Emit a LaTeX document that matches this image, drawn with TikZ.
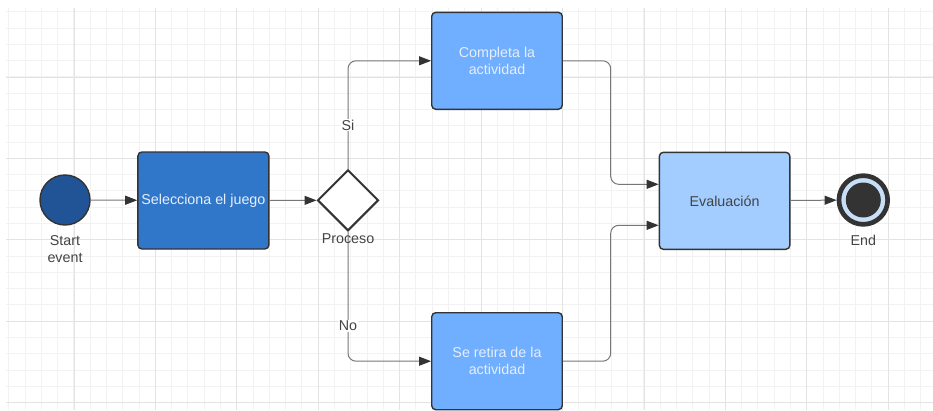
\documentclass[tikz,border=0pt]{standalone}
\usepackage{fontspec}
\setmainfont{Liberation Sans}
\usetikzlibrary{shapes.geometric,arrows.meta,calc}
\definecolor{gridminor}{HTML}{F2F2F2}
\definecolor{gridmajor}{HTML}{E3E3E3}
\definecolor{startblue}{HTML}{215497}
\definecolor{taskA}{HTML}{3177C9}
\definecolor{taskB}{HTML}{70AEFF}
\definecolor{taskC}{HTML}{A3CCFF}
\definecolor{bordergray}{HTML}{333333}
\definecolor{conngray}{HTML}{777777}
\definecolor{tiptone}{HTML}{333333}
\definecolor{lighttext}{HTML}{E6EEF9}
\definecolor{darktext}{HTML}{444444}
\definecolor{ringblue}{HTML}{C9DFF7}
\begin{document}
\begin{tikzpicture}[x=1pt,y=-1pt,
  every node/.style={font=\fontsize{14.3}{17}\selectfont},
  taskbox/.style={draw=bordergray,line width=1.4pt,rounded corners=4pt,minimum width=130.5pt,minimum height=97pt,inner sep=2pt,align=center},
  conn/.style={draw=conngray,line width=1pt,rounded corners=8pt},
  arr/.style={conn,-{Triangle[length=12pt,width=9pt,fill=tiptone,color=tiptone]}},
  lbl/.style={text=darktext,inner sep=1pt,align=center}
]
\useasboundingbox (0,0) rectangle (933,410);
\fill[white] (0,0) rectangle (933,410);
% grid
\foreach \i in {0,...,56} {
  \draw[gridminor,line width=1pt] ({8.8+16.286*\i},8) -- ({8.8+16.286*\i},410);
}
\foreach \j in {0,...,24} {
  \draw[gridminor,line width=1pt] (6,{11.8+16.286*\j}) -- (933,{11.8+16.286*\j});
}
\foreach \k in {0,...,10} {
  \draw[gridmajor,line width=1pt] ({74+81.43*\k},8) -- ({74+81.43*\k},410);
}
\foreach \k in {0,...,4} {
  \draw[gridmajor,line width=1pt] (6,{77+81.43*\k}) -- (933,{77+81.43*\k});
}
% nodes
\node[circle,draw=bordergray,line width=1.4pt,fill=startblue,minimum size=50pt,inner sep=0pt] (start) at (65,200) {};
\node[lbl] (startlbl) at (65,249) {Start\\event};
\node[taskbox,fill=taskA,text=lighttext,minimum width=131pt] (sel) at (203.4,200.5) {Selecciona el juego};
\node[diamond,aspect=1,draw=bordergray,line width=2pt,fill=white,minimum size=61pt,inner sep=0pt] (gw) at (348,200.3) {};
\node[taskbox,fill=taskB,text=lighttext] (comp) at (497,60.8) {Completa la\\actividad};
\node[taskbox,fill=taskB,text=lighttext] (ret) at (497,361.2) {Se retira de la\\actividad};
\node[taskbox,fill=taskC,text=darktext] (eval) at (724.6,200.8) {Evaluación};
\node[circle,draw=bordergray,line width=4.7pt,fill=ringblue,minimum size=48.7pt,inner sep=0pt] (end) at (863.3,200) {};
\node[circle,fill=bordergray,minimum size=35pt,inner sep=0pt] (endcore) at (863.3,200) {};
\node[lbl] (endlbl) at (863.3,240.5) {End};
% coordinates
\coordinate (xm) at (610.7,0);
\coordinate (ein1) at ($(eval.west)+(0,-16.5)$);
\coordinate (ein2) at ($(eval.west)+(0,24.5)$);
% connectors
\draw[arr] (start) -- (sel);
\draw[arr] (sel) -- (gw);
\draw[arr] (gw.north) |- (comp.west);
\draw[arr] (gw.south) |- (ret.west);
\draw[arr] (comp.east) -- (comp.east -| xm) -- (ein1 -| xm) -- (ein1);
\draw[arr] (ret.east) -- (ret.east -| xm) -- (ein2 -| xm) -- (ein2);
\draw[arr] (eval) -- (end);
% labels
\node[lbl,fill=white] (si) at (348,125) {Si};
\node[lbl,fill=white] (no) at (348,326) {No};
\node[lbl] (proc) at (348,239) {Proceso};
\end{tikzpicture}
\end{document}
